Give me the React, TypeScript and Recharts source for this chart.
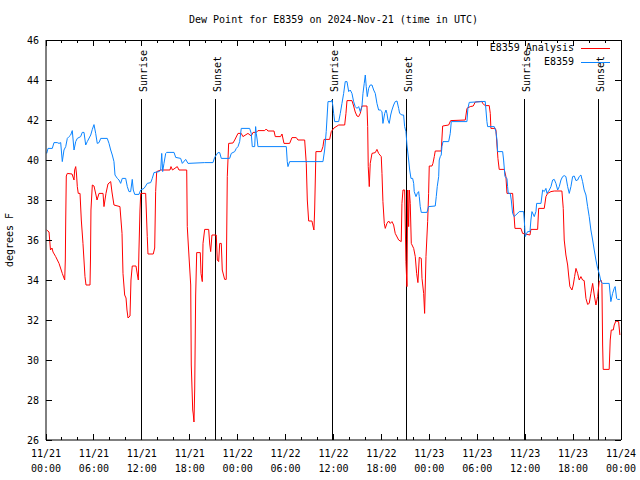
import React from 'react';
import { LineChart, Line, XAxis, YAxis, ReferenceLine, Legend } from 'recharts';

const FONT = '"DejaVu Sans Mono", "Liberation Mono", monospace';
const RED = '#ff0000';
const BLUE = '#0a84ff';

const title = 'Dew Point for E8359 on 2024-Nov-21 (time in UTC)';
const yLabel = 'degrees F';

// [hours since 11/21 00:00 UTC, dew point °F]
const analysisSeries: [number, number][] = [
  [0.09, 36.5], [0.38, 36.4], [0.56, 35.5], [0.75, 35.6], [0.88, 35.4], [1.21, 35.17], [1.63, 34.83], [2.04, 34.33],
  [2.34, 34.0], [2.42, 35.0], [2.47, 37.0], [2.54, 39.2], [2.67, 39.33], [3.26, 39.3], [3.51, 39.0], [3.59, 39.5],
  [3.72, 39.67], [3.82, 39.3], [3.92, 38.67], [4.04, 38.33], [4.26, 38.33], [4.42, 37.0], [4.63, 35.83], [4.88, 34.17],
  [5.01, 33.75], [5.51, 33.75], [5.57, 35.0], [5.63, 37.5], [5.8, 38.75], [6.01, 38.7], [6.26, 38.25], [6.39, 38.0],
  [6.64, 38.33], [7.14, 38.33], [7.26, 37.67], [7.51, 38.33], [7.76, 38.8], [8.1, 38.92], [8.26, 38.4], [8.51, 37.75],
  [9.26, 37.67], [9.52, 36.33], [9.64, 34.33], [9.85, 33.25], [10.02, 33.1], [10.14, 32.5], [10.27, 32.1], [10.52, 32.2],
  [10.64, 34.0], [10.8, 34.7], [11.27, 34.7], [11.43, 34.3], [11.56, 34.0], [11.64, 35.5], [11.77, 37.5], [11.86, 38.33],
  [12.48, 38.33], [12.68, 36.17], [12.77, 35.3], [13.43, 35.3], [13.61, 35.6], [13.73, 38.42], [13.86, 39.42], [14.36, 39.5],
  [15.52, 39.5], [15.65, 39.67], [15.84, 39.5], [16.44, 39.67], [16.65, 39.5], [17.62, 39.5], [17.69, 36.67], [17.82, 35.75],
  [18.12, 33.75], [18.19, 29.75], [18.37, 27.5], [18.44, 27.3], [18.53, 26.9], [18.62, 28.5], [18.74, 33.25], [18.87, 35.37],
  [19.32, 35.37], [19.41, 34.33], [19.57, 33.92], [19.66, 35.83], [19.87, 36.53], [20.37, 36.53], [20.5, 35.8], [20.62, 35.42],
  [20.78, 36.25], [21.32, 36.25], [21.45, 35.0], [21.62, 34.92], [21.75, 35.83], [21.95, 35.83], [22.07, 34.5], [22.37, 34.03],
  [22.57, 34.03], [22.7, 39.17], [22.87, 40.83], [23.41, 40.85], [23.63, 41.0], [24.04, 41.33], [24.45, 41.33], [24.66, 41.17],
  [25.29, 41.33], [25.7, 41.2], [25.92, 41.38], [26.33, 41.38], [26.54, 41.47], [27.38, 41.47], [27.58, 41.55], [27.79, 41.45],
  [28.55, 41.45], [28.71, 41.17], [29.38, 41.17], [29.55, 41.3], [29.8, 40.83], [30.51, 40.83], [30.8, 41.12], [31.34, 41.12],
  [31.55, 41.0], [32.39, 41.0], [32.59, 39.83], [32.72, 38.0], [32.89, 36.95], [33.3, 36.95], [33.43, 36.7], [33.55, 36.5],
  [33.64, 37.5], [33.8, 40.42], [34.47, 40.42], [34.68, 40.67], [34.81, 41.03], [35.52, 41.03], [35.72, 41.42], [36.06, 41.6],
  [36.65, 41.75], [37.4, 41.75], [37.56, 42.33], [37.69, 42.97], [38.31, 42.97], [38.52, 42.7], [38.72, 42.4], [38.94, 42.2],
  [39.15, 42.17], [39.35, 42.33], [39.56, 42.7], [40.19, 42.7], [40.28, 41.67], [40.35, 39.67], [40.48, 38.67], [40.6, 39.83],
  [40.82, 40.33], [41.23, 40.37], [41.44, 40.53], [41.65, 40.33], [41.98, 40.17], [42.07, 39.33], [42.19, 37.92], [42.36, 36.83],
  [42.48, 36.58], [42.69, 36.83], [42.91, 36.95], [43.11, 36.83], [43.32, 36.92], [43.53, 36.75], [43.73, 36.33], [44.16, 36.0],
  [44.48, 35.92], [44.57, 37.83], [44.7, 38.5], [44.91, 38.5], [45.07, 34.92], [45.2, 33.67], [45.29, 38.5], [45.41, 36.67],
  [45.49, 38.5], [45.61, 37.83], [45.74, 35.83], [46.04, 35.58], [46.24, 35.17], [46.41, 34.33], [46.57, 33.87], [46.74, 35.13],
  [46.99, 35.08], [47.08, 34.08], [47.29, 33.33], [47.41, 32.33], [47.58, 35.17], [47.79, 36.92], [47.91, 38.33], [47.99, 39.7],
  [48.33, 39.7], [48.45, 39.83], [48.62, 40.17], [48.74, 40.45], [49.49, 40.45], [49.67, 41.7], [50.42, 41.75], [50.67, 41.97],
  [52.5, 42.0], [52.71, 42.58], [53.12, 42.67], [53.5, 42.7], [53.75, 42.9], [54.59, 42.93], [54.67, 42.83], [55.0, 42.72],
  [55.5, 42.72], [55.63, 42.33], [55.71, 41.58], [56.25, 41.58], [56.34, 41.5], [56.47, 40.75], [56.59, 40.08], [56.75, 39.53],
  [57.38, 39.53], [57.59, 39.17], [57.72, 38.33], [58.43, 38.33], [58.56, 37.5], [58.72, 36.58], [59.47, 36.58], [59.68, 36.33],
  [60.6, 36.25], [60.72, 36.53], [61.56, 36.53], [61.69, 37.58], [62.39, 37.58], [62.6, 38.17], [62.81, 38.33], [63.23, 38.42],
  [63.64, 38.45], [64.6, 38.45], [64.77, 37.58], [64.89, 36.0], [65.1, 35.25], [65.32, 34.75], [65.44, 34.25], [65.6, 33.67],
  [65.86, 33.5], [66.02, 33.75], [66.19, 34.17], [66.36, 34.58], [66.57, 34.33], [66.77, 34.0], [66.98, 34.17], [67.19, 34.0],
  [67.39, 33.97], [67.61, 33.08], [67.82, 32.78], [68.02, 32.83], [68.23, 33.33], [68.45, 33.83], [68.65, 33.25], [68.86, 32.75],
  [69.07, 33.17], [69.27, 33.92], [69.49, 34.0], [69.61, 33.83], [69.7, 30.75], [69.77, 29.53], [70.52, 29.53], [70.65, 31.0],
  [70.78, 31.5], [71.03, 31.5], [71.15, 31.75], [71.36, 31.95], [71.7, 31.92], [71.86, 31.25],
];

const stationSeries: [number, number][] = [
  [0.09, 40.33], [0.25, 40.58], [0.79, 40.58], [1.0, 40.87], [1.41, 40.87], [1.63, 40.83], [1.84, 40.87], [2.04, 39.92],
  [2.25, 40.5], [2.47, 40.67], [2.67, 41.08], [2.88, 41.17], [3.09, 41.25], [3.29, 41.47], [3.51, 40.5], [3.72, 40.92],
  [3.92, 41.08], [4.34, 41.17], [4.54, 41.38], [4.76, 41.38], [4.97, 40.75], [5.17, 40.92], [5.6, 41.25], [5.8, 41.53],
  [6.01, 41.77], [6.22, 41.33], [6.42, 40.83], [6.64, 40.87], [6.85, 41.08], [7.67, 41.08], [7.89, 40.83], [8.1, 40.5],
  [8.3, 40.25], [8.51, 39.92], [8.64, 39.25], [8.93, 39.08], [9.14, 39.0], [9.35, 38.83], [9.55, 39.08], [9.98, 39.08],
  [10.18, 38.67], [10.39, 38.42], [10.6, 38.42], [10.8, 39.03], [10.93, 38.5], [11.11, 38.28], [11.64, 38.28], [11.86, 38.5],
  [12.27, 38.58], [12.48, 38.7], [12.68, 38.83], [13.11, 38.87], [13.31, 39.08], [13.52, 39.37], [14.15, 39.42], [14.36, 39.5],
  [14.49, 40.33], [14.61, 39.42], [14.77, 39.83], [14.99, 40.33], [15.11, 40.38], [16.03, 40.38], [16.24, 40.13], [16.86, 40.08],
  [17.07, 39.83], [17.49, 40.03], [17.78, 39.83], [19.87, 39.87], [20.91, 39.87], [21.12, 40.13], [21.53, 40.37], [21.75, 40.37],
  [21.95, 40.08], [23.0, 40.08], [23.2, 40.33], [23.63, 40.42], [23.83, 40.58], [24.04, 40.67], [24.25, 40.92], [24.45, 41.58],
  [25.5, 41.58], [25.7, 41.33], [25.83, 40.67], [26.13, 40.67], [26.25, 41.67], [26.33, 41.33], [26.45, 41.0], [26.54, 40.67],
  [30.09, 40.67], [30.21, 39.92], [30.3, 39.67], [30.51, 39.92], [34.68, 39.92], [34.89, 40.5], [35.09, 41.42], [35.31, 42.92],
  [35.72, 42.92], [35.81, 43.0], [35.93, 42.67], [36.02, 42.33], [36.15, 41.92], [36.65, 41.92], [36.85, 42.33], [37.06, 42.83],
  [37.27, 43.33], [37.47, 43.92], [37.69, 43.92], [37.9, 43.42], [38.1, 43.5], [38.31, 43.33], [38.52, 42.92], [38.72, 42.67],
  [38.94, 42.58], [39.15, 42.67], [39.35, 42.42], [39.56, 42.67], [39.69, 43.33], [39.85, 43.83], [39.98, 44.25], [40.1, 43.67],
  [40.23, 43.17], [40.4, 43.58], [40.6, 43.75], [40.82, 43.75], [41.03, 43.5], [41.23, 43.33], [41.44, 42.83], [41.65, 42.5],
  [41.86, 42.5], [42.07, 42.42], [42.19, 41.83], [42.41, 42.33], [42.57, 42.5], [42.69, 42.33], [42.82, 42.0], [42.98, 41.83],
  [43.16, 42.25], [43.32, 42.5], [43.53, 42.75], [43.73, 42.92], [43.95, 42.95], [44.16, 42.58], [44.28, 42.33], [44.57, 42.25],
  [44.78, 42.25], [44.91, 41.67], [45.07, 41.42], [45.2, 40.75], [45.41, 40.0], [45.54, 39.5], [45.7, 39.08], [45.91, 39.08],
  [46.04, 38.83], [46.11, 38.42], [46.33, 38.17], [46.49, 38.33], [46.66, 38.42], [46.74, 38.17], [46.86, 37.67], [46.99, 37.38],
  [47.7, 37.38], [47.91, 37.67], [48.74, 37.7], [48.87, 38.17], [48.99, 38.67], [49.17, 39.17], [49.24, 40.0], [49.37, 40.17],
  [49.49, 40.25], [49.58, 40.67], [49.71, 40.92], [50.42, 40.92], [50.62, 41.33], [50.75, 41.92], [52.71, 41.92], [52.83, 42.58],
  [53.0, 42.88], [55.0, 42.93], [55.09, 42.5], [55.21, 41.92], [55.3, 41.67], [56.13, 41.67], [56.34, 41.42], [56.47, 41.0],
  [56.55, 40.42], [57.18, 40.42], [57.3, 40.0], [57.47, 39.17], [57.72, 39.08], [57.8, 38.67], [57.88, 38.33], [58.13, 38.33],
  [58.26, 38.0], [58.43, 37.33], [58.63, 37.17], [58.84, 37.25], [59.26, 37.42], [59.81, 37.42], [59.94, 36.67], [60.01, 36.17],
  [60.19, 36.33], [60.31, 36.42], [60.6, 36.42], [60.72, 37.0], [60.85, 37.42], [61.14, 37.17], [61.35, 37.42], [61.44, 37.83],
  [61.98, 37.83], [62.19, 38.5], [62.39, 38.42], [62.6, 38.58], [62.73, 38.33], [63.02, 38.5], [63.23, 38.67], [63.44, 39.0],
  [63.64, 39.03], [63.85, 38.83], [64.07, 38.5], [64.27, 38.67], [64.48, 39.0], [64.69, 39.17], [64.89, 39.22], [65.1, 39.17],
  [65.32, 38.67], [65.52, 38.33], [65.73, 38.67], [65.94, 39.17], [66.14, 39.2], [66.36, 38.97], [66.57, 39.0], [66.77, 39.17],
  [66.98, 39.25], [67.19, 38.92], [67.39, 38.5], [67.61, 38.25], [67.82, 37.67], [68.02, 37.17], [68.23, 36.5], [68.45, 36.0],
  [68.65, 35.5], [68.86, 35.0], [69.07, 34.58], [69.27, 34.33], [69.49, 33.92], [69.7, 33.83], [70.52, 33.83], [70.73, 32.92],
  [70.95, 33.33], [71.15, 33.58], [71.27, 33.67], [71.45, 33.08], [71.57, 33.03], [71.86, 33.03],
];

const yTicks = [26, 28, 30, 32, 34, 36, 38, 40, 42, 44, 46];
const xTicks = [0, 2, 4, 6, 8, 10, 12, 14, 16, 18, 20, 22, 24, 26, 28, 30, 32, 34, 36, 38, 40, 42, 44, 46, 48, 50, 52, 54, 56, 58, 60, 62, 64, 66, 68, 70, 72];
const xMajorHours = [0, 6, 12, 18, 24, 30, 36, 42, 48, 54, 60, 66, 72];
const xTickDates = ['11/21', '11/21', '11/21', '11/21', '11/22', '11/22', '11/22', '11/22', '11/23', '11/23', '11/23', '11/23', '11/24'];
const xTickTimes = ['00:00', '06:00', '12:00', '18:00', '00:00', '06:00', '12:00', '18:00', '00:00', '06:00', '12:00', '18:00', '00:00'];

const sunEventHours = [11.92, 21.2, 35.86, 45.11, 59.92, 69.17];
const sunEventLabels = ['Sunrise', 'Sunset', 'Sunrise', 'Sunset', 'Sunrise', 'Sunset'];
const sunLineTopValue = 43.05;

const X_DOMAIN: [number, number] = [0, 72];
const Y_DOMAIN: [number, number] = [26, 46];

const analysisData = analysisSeries.map(([t, v]) => ({ t, v }));
const stationData = stationSeries.map(([t, v]) => ({ t, v }));

const legendItems = [
  { name: 'E8359 Analysis', color: RED },
  { name: 'E8359', color: BLUE },
];

const BottomTick = (props: any) => {
  const { x, y, payload } = props;
  const idx = xMajorHours.indexOf(payload.value);
  const major = idx >= 0;
  return (
    <g>
      <line x1={x} x2={x} y1={y} y2={y - (major ? 6 : 3)} stroke="#000" shapeRendering="crispEdges" />
      {major && (
        <text x={x} y={y + 17} textAnchor="middle" fontFamily={FONT} fontSize={10} fill="#000">
          {xTickDates[idx]}
        </text>
      )}
      {major && (
        <text x={x} y={y + 32} textAnchor="middle" fontFamily={FONT} fontSize={10} fill="#000">
          {xTickTimes[idx]}
        </text>
      )}
    </g>
  );
};

const TopTick = (props: any) => {
  const { x, y, payload } = props;
  const major = xMajorHours.indexOf(payload.value) >= 0;
  return <line x1={x} x2={x} y1={y} y2={y + (major ? 6 : 3)} stroke="#000" shapeRendering="crispEdges" />;
};

const LeftTick = (props: any) => {
  const { x, y, payload } = props;
  return (
    <g>
      <line x1={x} x2={x + 6} y1={y} y2={y} stroke="#000" shapeRendering="crispEdges" />
      <text x={x - 7} y={y + 3.5} textAnchor="end" fontFamily={FONT} fontSize={10} fill="#000">
        {payload.value}
      </text>
    </g>
  );
};

const RightTick = (props: any) => {
  const { x, y } = props;
  return <line x1={x} x2={x - 6} y1={y} y2={y} stroke="#000" shapeRendering="crispEdges" />;
};

const makeSunShape = (label: string) => (p: any) => {
  const x = p.x1;
  const top = Math.min(p.y1, p.y2);
  const bottom = Math.max(p.y1, p.y2);
  const tx = x + 5.5;
  const ty = top - 7;
  return (
    <g>
      <line x1={x} x2={x} y1={top} y2={bottom} stroke="#000" strokeWidth={1} shapeRendering="crispEdges" />
      <text x={tx} y={ty} transform={`rotate(-90 ${tx} ${ty})`} textAnchor="start" fontFamily={FONT} fontSize={10} fill="#000">
        {label}
      </text>
    </g>
  );
};

const renderLegend = () => (
  <div style={{ fontFamily: FONT, fontSize: 10, color: '#000' }}>
    {legendItems.map((item) => (
      <div key={item.name} style={{ display: 'flex', justifyContent: 'flex-end', alignItems: 'center', height: 14, lineHeight: '14px' }}>
        <span style={{ whiteSpace: 'pre' }}>{item.name}</span>
        <span style={{ display: 'inline-block', width: 29, height: 0, borderTop: `1px solid ${item.color}`, marginLeft: 7 }} />
      </div>
    ))}
  </div>
);

const FrameLine = (p: any) => <line x1={p.x1} x2={p.x2} y1={p.y1} y2={p.y2} stroke="#000" shapeRendering="crispEdges" />;

export default function App() {
  return (
    <div style={{ position: 'absolute', left: 0, top: 0, width: 640, height: 480, background: '#fff' }}>
      <LineChart width={640} height={480} margin={{ top: 39, right: 18, bottom: 0, left: 0 }}>
        <XAxis
          xAxisId="b"
          dataKey="t"
          type="number"
          domain={X_DOMAIN}
          ticks={xTicks}
          interval={0}
          height={40}
          tickSize={0}
          tickMargin={0}
          tickLine={false}
          axisLine={{ stroke: '#000' }}
          tick={<BottomTick />}
        />
        <XAxis
          xAxisId="t"
          orientation="top"
          dataKey="t"
          type="number"
          domain={X_DOMAIN}
          ticks={xTicks}
          interval={0}
          height={1}
          tickSize={0}
          tickMargin={0}
          tickLine={false}
          axisLine={false}
          tick={<TopTick />}
          label={(p: any) => {
            const vb = p.viewBox || { x: 46, y: 40, width: 575 };
            return (
              <text x={vb.x + vb.width / 2} y={22.5} textAnchor="middle" fontFamily={FONT} fontSize={10} fill="#000">
                {title}
              </text>
            );
          }}
        />
        <YAxis
          yAxisId="l"
          type="number"
          domain={Y_DOMAIN}
          ticks={yTicks}
          interval={0}
          width={46}
          tickSize={0}
          tickMargin={0}
          tickLine={false}
          axisLine={{ stroke: '#000' }}
          tick={<LeftTick />}
          label={(p: any) => {
            const vb = p.viewBox || { x: 0, y: 40, width: 46, height: 400 };
            const lx = vb.x + 13;
            const ly = vb.y + vb.height / 2;
            return (
              <text x={lx} y={ly} transform={`rotate(-90 ${lx} ${ly})`} textAnchor="middle" fontFamily={FONT} fontSize={10} fill="#000">
                {yLabel}
              </text>
            );
          }}
        />
        <YAxis
          yAxisId="r"
          orientation="right"
          type="number"
          domain={Y_DOMAIN}
          ticks={yTicks}
          interval={0}
          width={1}
          tickSize={0}
          tickMargin={0}
          tickLine={false}
          axisLine={false}
          tick={<RightTick />}
        />
        <Legend
          layout="vertical"
          align="center"
          verticalAlign="middle"
          wrapperStyle={{ left: 440, top: 41, width: 170, height: 28 }}
          content={renderLegend}
        />
        <ReferenceLine xAxisId="b" yAxisId="l" y={Y_DOMAIN[1]} stroke="#000" ifOverflow="visible" shape={FrameLine} />
        <ReferenceLine xAxisId="b" yAxisId="l" x={X_DOMAIN[1]} stroke="#000" ifOverflow="visible" shape={FrameLine} />
        {sunEventHours.map((h, i) => (
          <ReferenceLine
            key={`sun-${i}`}
            xAxisId="b"
            yAxisId="l"
            segment={[{ x: h, y: 26 }, { x: h, y: sunLineTopValue }]}
            stroke="#000"
            shape={makeSunShape(sunEventLabels[i])}
          />
        ))}
        <Line
          xAxisId="b"
          yAxisId="l"
          data={analysisData}
          dataKey="v"
          name="E8359 Analysis"
          type="linear"
          stroke={RED}
          strokeWidth={1}
          dot={false}
          activeDot={false}
          isAnimationActive={false}
        />
        <Line
          xAxisId="t"
          yAxisId="r"
          data={stationData}
          dataKey="v"
          name="E8359"
          type="linear"
          stroke={BLUE}
          strokeWidth={1}
          dot={false}
          activeDot={false}
          isAnimationActive={false}
        />
      </LineChart>
    </div>
  );
}
